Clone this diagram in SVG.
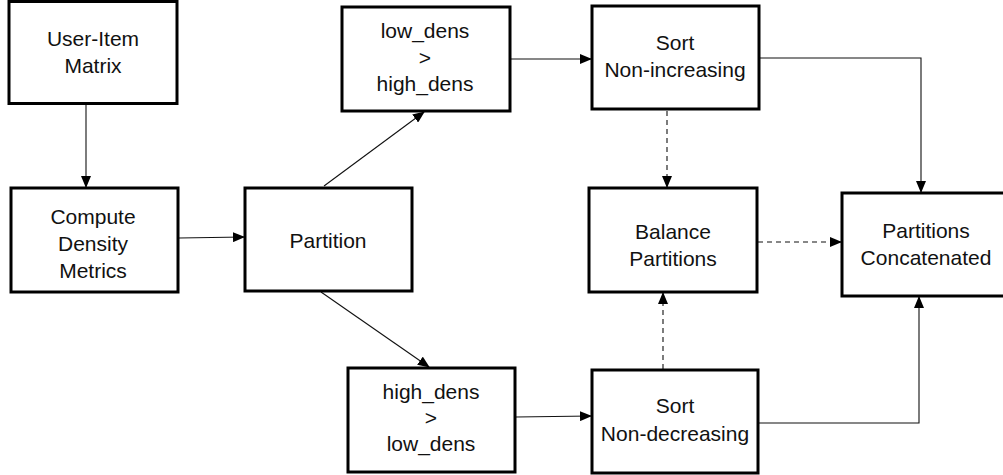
<svg xmlns="http://www.w3.org/2000/svg" width="1003" height="475" viewBox="0 0 1003 475">
<style>
.box{fill:#fff;stroke:#000;stroke-width:3}
.lbl{font-family:"Liberation Sans",Arial,sans-serif;font-size:21px;fill:#111;text-anchor:middle}
.con{fill:none;stroke:#111;stroke-width:1.1}
.dash{stroke-dasharray:5 4}
</style>
<defs>
<marker id="ah" markerWidth="12" markerHeight="10" refX="11" refY="5" orient="auto" markerUnits="userSpaceOnUse">
<path d="M0,0 L12,5 L0,10 z" fill="#000"/>
</marker>
</defs>
<rect width="1003" height="475" fill="#fff"/>
<g id="connectors">
<line class="con" x1="86" y1="104" x2="86" y2="187" marker-end="url(#ah)"/>
<line class="con" x1="179" y1="238" x2="244" y2="237" marker-end="url(#ah)"/>
<line class="con" x1="324" y1="186" x2="424" y2="112" marker-end="url(#ah)"/>
<line class="con" x1="321" y1="292" x2="429" y2="367" marker-end="url(#ah)"/>
<line class="con" x1="511" y1="59" x2="591" y2="59" marker-end="url(#ah)"/>
<line class="con" x1="516" y1="417" x2="591" y2="416" marker-end="url(#ah)"/>
<polyline class="con" points="760,58 921,58 921,192" marker-end="url(#ah)"/>
<polyline class="con" points="759,423 919,423 919,297" marker-end="url(#ah)"/>
<line class="con dash" x1="667" y1="111" x2="667" y2="187" marker-end="url(#ah)"/>
<line class="con dash" x1="663" y1="369" x2="663" y2="293" marker-end="url(#ah)"/>
<line class="con dash" x1="758" y1="242" x2="841" y2="242" marker-end="url(#ah)"/>
</g>
<g id="user-item-matrix">
<rect class="box" x="9" y="1.5" width="168" height="102"/>
<text class="lbl" x="93" y="46">User-Item</text>
<text class="lbl" x="93" y="73">Matrix</text>
</g>
<g id="compute-density">
<rect class="box" x="11" y="188" width="167" height="104"/>
<text class="lbl" x="93" y="224">Compute</text>
<text class="lbl" x="93" y="251">Density</text>
<text class="lbl" x="93" y="278">Metrics</text>
</g>
<g id="partition">
<rect class="box" x="245" y="188" width="167" height="103"/>
<text class="lbl" x="328" y="248">Partition</text>
</g>
<g id="low-gt-high">
<rect class="box" x="342" y="7" width="168" height="104"/>
<text class="lbl" x="425" y="38">low_dens</text>
<text class="lbl" x="425" y="64.5">&gt;</text>
<text class="lbl" x="425" y="91">high_dens</text>
</g>
<g id="high-gt-low">
<rect class="box" x="348" y="368" width="167" height="104"/>
<text class="lbl" x="431" y="399">high_dens</text>
<text class="lbl" x="431" y="425">&gt;</text>
<text class="lbl" x="431" y="451">low_dens</text>
</g>
<g id="sort-non-increasing">
<rect class="box" x="592" y="6" width="167" height="103"/>
<text class="lbl" x="675" y="50">Sort</text>
<text class="lbl" x="675" y="77">Non-increasing</text>
</g>
<g id="balance-partitions">
<rect class="box" x="589" y="188" width="168" height="104"/>
<text class="lbl" x="673" y="239">Balance</text>
<text class="lbl" x="673" y="266">Partitions</text>
</g>
<g id="sort-non-decreasing">
<rect class="box" x="592" y="370" width="166" height="103"/>
<text class="lbl" x="675" y="413">Sort</text>
<text class="lbl" x="675" y="441">Non-decreasing</text>
</g>
<g id="partitions-concatenated">
<rect class="box" x="842" y="193" width="168" height="103"/>
<text class="lbl" x="926" y="238">Partitions</text>
<text class="lbl" x="926" y="265">Concatenated</text>
</g>
</svg>
